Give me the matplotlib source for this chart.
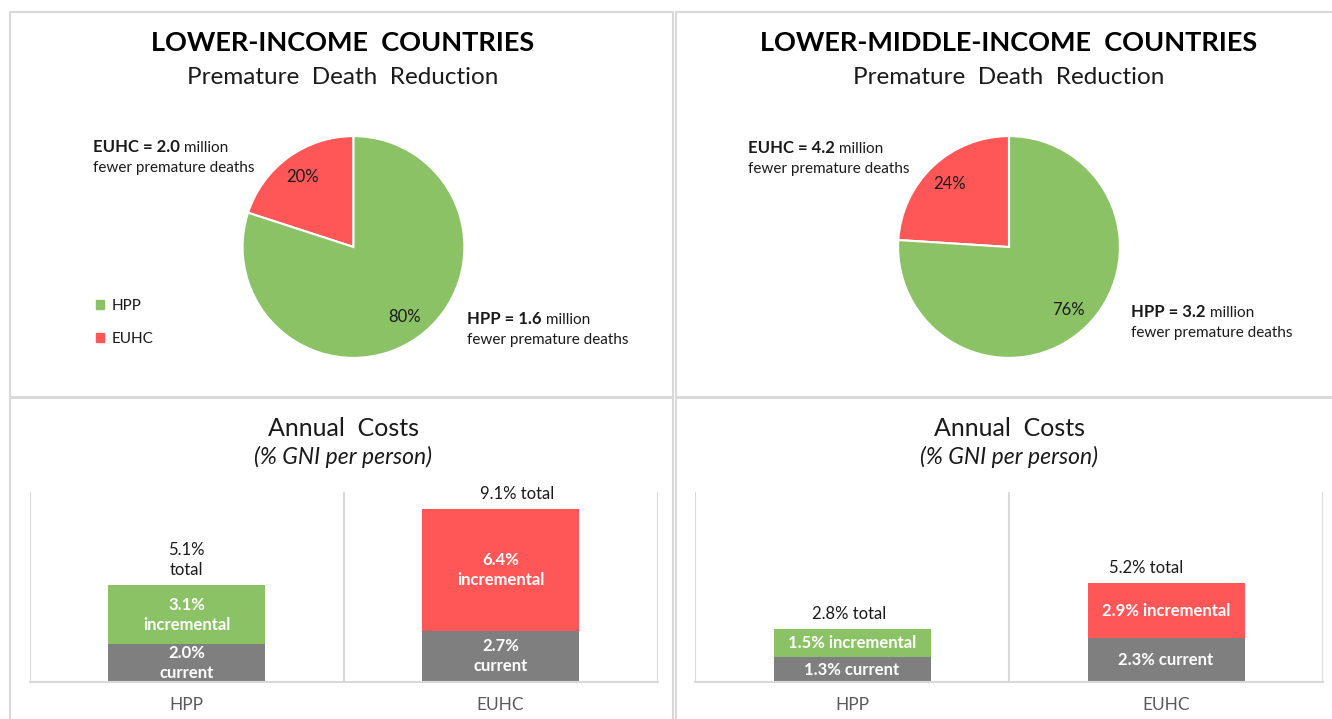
import matplotlib.pyplot as plt
from matplotlib.patches import Rectangle, Patch

W, H = 1332, 719

# data
groups = ['LOWER-INCOME  COUNTRIES', 'LOWER-MIDDLE-INCOME  COUNTRIES']
pie_labels = ['EUHC', 'HPP']
pie_shares = [[20, 80], [24, 76]]
deaths_euhc = ['2.0', '4.2']
deaths_hpp = ['1.6', '3.2']

bar_cats = ['HPP', 'EUHC']
current = [[2.0, 2.7], [1.3, 2.3]]
incremental = [[3.1, 6.4], [1.5, 2.9]]
current_txt = [['2.0%\ncurrent', '2.7%\ncurrent'], ['1.3% current', '2.3% current']]
incr_txt = [['3.1%\nincremental', '6.4%\nincremental'], ['1.5% incremental', '2.9% incremental']]
total_txt = [['5.1%\ntotal', '9.1% total'], ['2.8% total', '5.2% total']]

GREEN = '#8BC266'
RED = '#FF5757'
GREY = '#7F7F7F'
LINE = '#D9D9D9'
TXT = '#1a1a1a'

plt.rcParams['font.family'] = ['Lato', 'DejaVu Sans']


def px(x, y):
    # pixel position (from top-left) -> figure fraction
    return x / W, 1 - y / H


def box(x0, y0, x1, y1):
    return [x0 / W, 1 - y1 / H, (x1 - x0) / W, (y1 - y0) / H]


fig = plt.figure(figsize=(W / 100, H / 100), dpi=100)

# panel frames (bottom/right ones run off the picture edge)
for x0, y0, x1, y1 in [(10, 12, 673, 397), (676, 12, 1334, 397),
                       (10, 398, 673, 722), (676, 398, 1334, 722)]:
    fig.add_artist(Rectangle(px(x0, y1), (x1 - x0) / W, (y1 - y0) / H, fill=False,
                             edgecolor=LINE, linewidth=1.5, transform=fig.transFigure))

panel_cx = [343, 1009]
pie_cx = [353.5, 1009]
r = 112
euhc_pos = [(93, 147), (748, 148)]
hpp_pos = [(467, 319), (1131, 312)]

for i in range(2):
    fig.text(*px(panel_cx[i], 43), groups[i], ha='center', va='center',
             fontsize=19.5, fontweight='bold', color='black')
    fig.text(*px(panel_cx[i], 77), 'Premature  Death  Reduction', ha='center', va='center',
             fontsize=17.5, color=TXT)

    ax = fig.add_axes(box(pie_cx[i] - r, 247 - r, pie_cx[i] + r, 247 + r))
    wedges, _, autos = ax.pie(pie_shares[i], colors=[RED, GREEN], startangle=90,
                              autopct='%.0f%%', pctdistance=0.78,
                              wedgeprops=dict(edgecolor='white', linewidth=1.5),
                              textprops=dict(fontsize=12, color=TXT))
    ax.set_xlim(-1.01, 1.01)
    ax.set_ylim(-1.01, 1.01)

    for (x, y), name, val in [(euhc_pos[i], 'EUHC', deaths_euhc[i]),
                              (hpp_pos[i], 'HPP', deaths_hpp[i])]:
        t = fig.text(*px(x, y), f'{name} = {val}', ha='left', va='center',
                     fontsize=12, fontweight='bold', color=TXT)
        ax.annotate(' million', xy=(1, 0), xycoords=t, va='bottom', ha='left',
                    fontsize=11, color=TXT)
        fig.text(*px(x, y + 21), 'fewer premature deaths', ha='left', va='center',
                 fontsize=11, color=TXT)

# legend on the left pie panel
fig.legend(handles=[Patch(color=GREEN, label='HPP'), Patch(color=RED, label='EUHC')],
           loc='upper left', bbox_to_anchor=px(96, 299), frameon=False,
           handlelength=0.5, handleheight=0.5, handletextpad=0.5, labelspacing=1.25,
           borderpad=0, borderaxespad=0, fontsize=11, labelcolor=TXT)

# annual cost bars
total_dx = [[0, 12], [-2, -14]]
bar_x0 = [29.5, 695]
for i in range(2):
    fig.text(*px(panel_cx[i], 428), 'Annual  Costs', ha='center', va='center',
             fontsize=18, color=TXT)
    fig.text(*px(panel_cx[i], 457), '(% GNI per person)', ha='center', va='center',
             fontsize=16.5, style='italic', color=TXT)

    ax = fig.add_axes(box(bar_x0[i], 492, bar_x0[i] + 628, 682))
    x = list(range(len(bar_cats)))
    b1 = ax.bar(x, current[i], 0.5, color=GREY)
    b2 = ax.bar(x, incremental[i], 0.5, bottom=current[i], color=[GREEN, RED])
    ax.bar_label(b1, current_txt[i], label_type='center', color='white',
                 fontweight='bold', fontsize=12, linespacing=1.3)
    ax.bar_label(b2, incr_txt[i], label_type='center', color='white',
                 fontweight='bold', fontsize=12, linespacing=1.3)
    for j in x:
        ax.annotate(total_txt[i][j], xy=(j, current[i][j] + incremental[i][j]),
                    xytext=(total_dx[i][j], 5), textcoords='offset points',
                    ha='center', va='bottom', fontsize=12, color=TXT, linespacing=1.3)
    ax.set_xlim(-0.5, 1.5)
    ax.set_ylim(0, 10)
    for v in [-0.5, 0.5, 1.5]:
        ax.axvline(v, color=LINE, linewidth=1.5)
    for s in ['top', 'left', 'right']:
        ax.spines[s].set_visible(False)
    ax.spines['bottom'].set_color(LINE)
    ax.spines['bottom'].set_linewidth(1.5)
    ax.set_yticks([])
    ax.set_xticks(x, bar_cats)
    ax.tick_params(axis='x', length=0, pad=11, labelsize=12.5, labelcolor='#595959')

fig.savefig('out.png', dpi=100)
